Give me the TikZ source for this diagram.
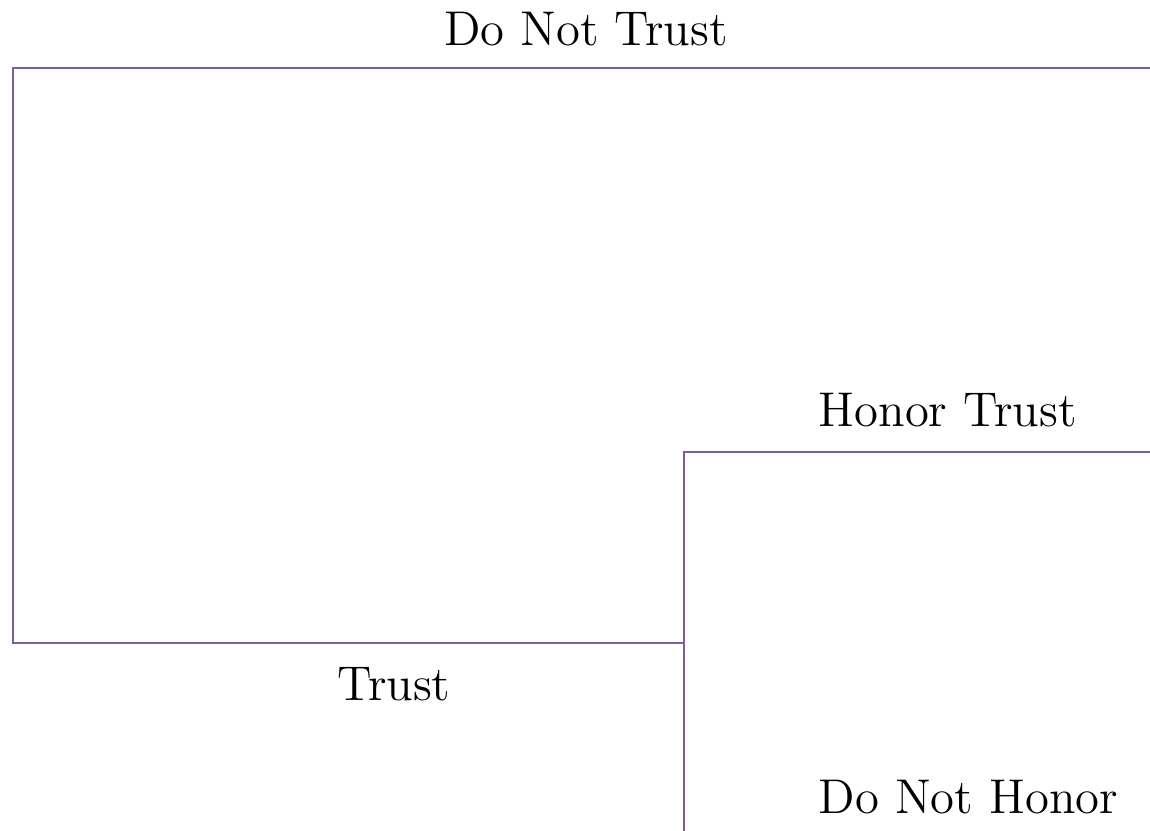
\documentclass[tikz,border=0pt]{standalone}
\begin{document}
\begin{tikzpicture}[x=0.25pt,y=-0.25pt,
  branch/.style={draw=edgepurple,line width=0.55pt},
  lbl/.style={inner sep=0pt,font=\fontsize{12.2}{14}\selectfont}]
\definecolor{edgepurple}{RGB}{123,94,160}
\useasboundingbox (0,0) rectangle (1150,831);
% decision points
\coordinate (root) at (13,68);
\coordinate (rootEnd) at (1150,68);
\coordinate (corner) at (13,643);
\coordinate (second) at (684,643);
\coordinate (honorStart) at (684,452);
\coordinate (honorEnd) at (1150,452);
\coordinate (bottomEnd) at (684,831);
% branches
\draw[branch] (rootEnd) -- (root) -- (corner) -- (second);
\draw[branch] (bottomEnd) -- (honorStart) -- (honorEnd);
% labels
\node[lbl,anchor=base] (dnt) at (586,46) {Do Not Trust};
\node[lbl,anchor=base west] (ht) at (818,427) {Honor Trust};
\node[lbl,anchor=base] (tr) at (394,701) {Trust};
\node[lbl,anchor=base west] (dnh) at (818,814) {Do Not Honor};
\end{tikzpicture}
\end{document}
